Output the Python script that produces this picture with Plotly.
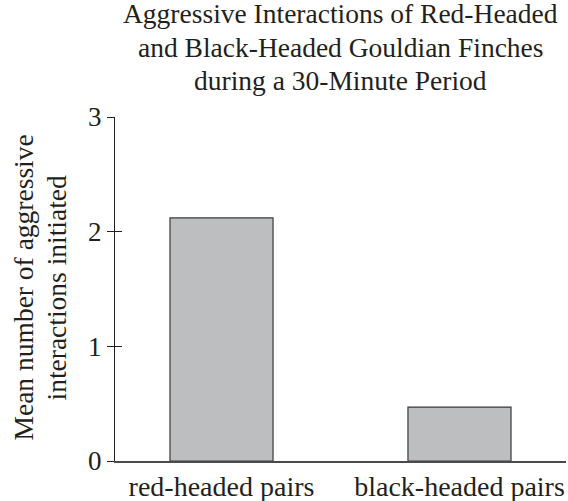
import plotly.graph_objects as go

categories = ["red-headed pairs", "black-headed pairs"]
values = [2.12, 0.47]
y_ticks = [0, 1, 2, 3]
title_lines = ["Aggressive Interactions of Red-Headed",
               "and Black-Headed Gouldian Finches",
               "during a 30-Minute Period"]
ylabel_lines = ["Mean number of aggressive", "interactions initiated"]

FONT = "Liberation Serif, Times New Roman, serif"
TXT = "#231f20"

W, H = 568, 501
L, R, T, B = 115, 2, 117, 40
PW, PH = W - L - R, H - T - B


def px_x(px):
    return (px - L) / PW


def px_y(py):
    return (H - B - py) / PH


fig = go.Figure()
fig.add_trace(go.Bar(
    x=[0, 1], y=values,
    width=0.433,
    marker=dict(color="#bcbec0", line=dict(color="#3a3a3a", width=1.2)),
    hoverinfo="skip",
))
# overlay axis for inside half of crossing ticks
fig.add_trace(go.Scatter(x=[0], y=[0], yaxis="y2", mode="markers",
                         marker=dict(opacity=0), hoverinfo="skip", showlegend=False))

annotations = []
for text, cy in zip(title_lines, [14, 47, 80]):
    annotations.append(dict(
        text=text, xref="paper", yref="paper",
        x=0.5, y=px_y(cy), xanchor="center", yanchor="middle",
        showarrow=False, font=dict(family=FONT, size=27.5, color=TXT),
    ))
for text, cx in zip(ylabel_lines, [22.5, 55.5]):
    annotations.append(dict(
        text=text, textangle=-90, xref="paper", yref="paper",
        x=px_x(cx), y=px_y(288), xanchor="center", yanchor="middle",
        showarrow=False, font=dict(family=FONT, size=27.5, color=TXT),
    ))

fig.update_layout(
    width=W, height=H,
    margin=dict(l=L, r=R, t=T, b=B, autoexpand=False),
    paper_bgcolor="white", plot_bgcolor="white",
    showlegend=False,
    font=dict(family=FONT, size=27, color=TXT),
    xaxis=dict(
        range=[-0.4475, 1.4475],
        tickmode="array", tickvals=[0, 1], ticktext=categories,
        ticks="", showgrid=False, zeroline=False,
        showline=True, linecolor="#4a4a4a", linewidth=1.6,
        tickfont=dict(family=FONT, size=28, color=TXT),
        ticklabelstandoff=0,
        automargin=False,
        fixedrange=True,
    ),
    yaxis=dict(
        range=[0, 3],
        tickmode="array", tickvals=y_ticks, ticktext=[str(v) for v in y_ticks],
        ticks="outside", ticklen=7, tickwidth=1.3, tickcolor="#231f20",
        showgrid=False, zeroline=False,
        showline=True, linecolor="#231f20", linewidth=1.3,
        tickfont=dict(family=FONT, size=27, color=TXT),
        automargin=False,
        fixedrange=True,
    ),
    yaxis2=dict(
        overlaying="y", side="left", anchor="x",
        range=[0, 3],
        tickmode="array", tickvals=y_ticks[1:],
        ticks="inside", ticklen=7, tickwidth=1.3, tickcolor="#231f20",
        showticklabels=False, showgrid=False, zeroline=False, showline=False,
        automargin=False,
        fixedrange=True,
    ),
    annotations=annotations,
)

fig.write_html("out.html", config={"displayModeBar": False},
               post_script="document.body.style.margin='0px';")
